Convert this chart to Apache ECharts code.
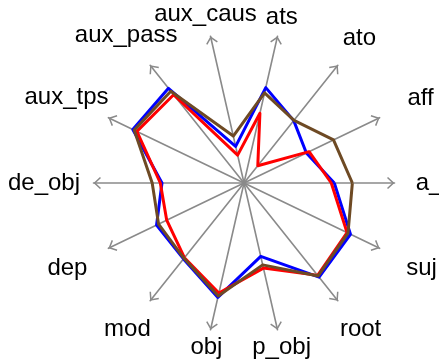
<!DOCTYPE html>
<html>
<head>
<meta charset="utf-8">
<style>
  html, body { margin: 0; padding: 0; background: #fff; }
  #chart { width: 439px; height: 362px; }
</style>
<script src="https://cdn.jsdelivr.net/npm/echarts@6/dist/echarts.min.js"></script>
</head>
<body>
<div id="chart"></div>
<script>
  // axes, counter-clockwise from the right
  var axisNames = ['a_obj', 'aff', 'ato', 'ats', 'aux_caus', 'aux_pass', 'aux_tps',
                   'de_obj', 'dep', 'mod', 'obj', 'p_obj', 'root', 'suj']

  // values as a share of the axis length
  var blueVals  = [0.60, 0.46, 0.53, 0.65, 0.25, 0.805, 0.82, 0.545, 0.645, 0.645, 0.78, 0.50, 0.80, 0.785]
  var redVals   = [0.58, 0.48, 0.147, 0.475, 0.19, 0.75, 0.79, 0.556, 0.57, 0.635, 0.75, 0.58, 0.785, 0.76]
  var brownVals = [0.72, 0.66, 0.533, 0.614, 0.32, 0.78, 0.81, 0.61, 0.63, 0.64, 0.77, 0.558, 0.79, 0.767]

  // where each name sits, distance of its centre from the middle (px)
  var labelRadius = [201, 196, 185, 170, 173, 189, 197, 200, 196, 187, 169, 169, 187, 197]

  var R = 150.5
  var GAP = 20

  // shift each centred name outward with padding so it lands at labelRadius
  var rich = {}
  axisNames.forEach(function (n, i) {
    var a = i * 2 * Math.PI / axisNames.length
    var extra = labelRadius[i] - (R + GAP)
    var dx = extra * Math.cos(a)
    var dy = extra * Math.sin(a)
    rich['n' + i] = {
      color: '#000',
      fontSize: 24,
      fontFamily: '"Liberation Sans", Arial, sans-serif',
      padding: [Math.max(0, -2 * dy), Math.max(0, -2 * dx), Math.max(0, 2 * dy), Math.max(0, 2 * dx)]
    }
  })

  var chart = echarts.init(document.getElementById('chart'), null, { renderer: 'canvas' })

  chart.setOption({
    backgroundColor: '#fff',
    animation: false,
    radar: {
      center: [244, 183],
      radius: R,
      startAngle: 0,
      shape: 'polygon',
      splitNumber: 1,
      nameGap: GAP,
      splitLine: { show: false },
      splitArea: { show: false },
      axisTick: { show: false },
      axisLabel: { show: false },
      axisLine: {
        symbol: ['none', 'path://M6,0 L12,6.5 L10.9,7.52 L6,2.2 L1.1,7.52 L0,6.5 Z'],
        symbolSize: [12, 7.5],
        symbolOffset: [0, -3.75],
        lineStyle: { color: '#8a8a8a', width: 1.6 }
      },
      axisName: {
        align: 'center',
        verticalAlign: 'middle',
        color: '#000',
        fontSize: 24,
        fontFamily: '"Liberation Sans", Arial, sans-serif',
        formatter: function (name) {
          return '{n' + axisNames.indexOf(name) + '|' + name + '}'
        },
        rich: rich
      },
      indicator: axisNames.map(function (n) { return { name: n, min: 0, max: 1 } })
    },
    series: [{
      type: 'radar',
      symbol: 'none',
      data: [
        { name: 'blue', value: blueVals, lineStyle: { color: '#0000ff', width: 3 } },
        { name: 'red', value: redVals, lineStyle: { color: '#ff0000', width: 3 } },
        { name: 'brown', value: brownVals, lineStyle: { color: '#6e4a24', width: 3 } }
      ]
    }]
  })
</script>
</body>
</html>
